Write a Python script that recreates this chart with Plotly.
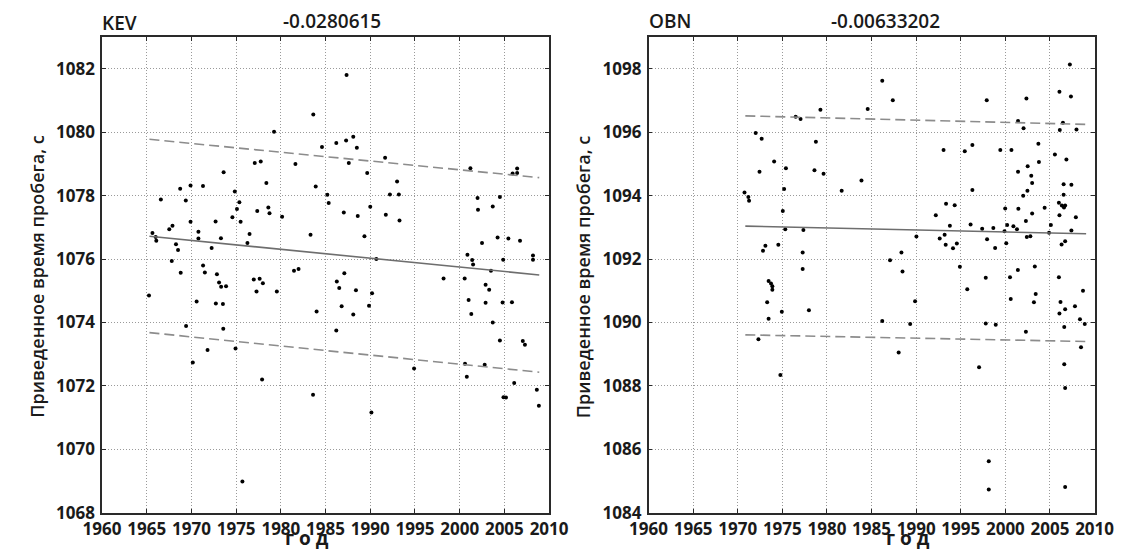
import plotly.graph_objects as go

# ---------------- data ----------------
kev_year = [1965.25, 1965.64, 1966.0, 1966.07, 1966.58, 1967.52, 1967.88, 1968.27, 1968.5, 1967.8,
            1968.74, 1969.37, 1969.9, 1969.9, 1970.78, 1970.78, 1971.29, 1968.8, 1971.3, 1971.5,
            1972.26, 1972.7, 1972.85, 1973.3, 1973.6, 1974.58, 1974.85, 1975.09, 1975.36, 1975.5,
            1976.26, 1976.5, 1977.08, 1977.36, 1977.75, 1978.38, 1978.6, 1978.73, 1979.24, 1980.14,
            1981.47, 1981.98, 1981.63, 1983.32, 1983.63, 1983.9, 1984.6, 1985.2, 1985.35, 1986.2,
            1987.04, 1987.1, 1987.35, 1987.3, 1987.6, 1988.1, 1988.5, 1988.6, 1989.35, 1989.66,
            1990.0, 1990.68, 1991.66, 1991.74, 1992.2, 1993.0, 1993.2, 1993.27, 2001.2, 2000.87,
            2001.4, 2001.5, 2002.0, 2002.05, 2002.5, 2003.7, 2004.24, 2004.5, 2004.87, 2005.45,
            2005.92, 2006.43, 2006.43, 2006.75, 2008.2, 2008.2, 2003.5,
            1998.2, 2000.56, 1973.09, 1973.32, 1973.87, 1972.73, 1973.52, 1970.58, 1969.4, 1973.56,
            1971.8, 1970.15, 1974.93, 1975.7, 1976.97, 1977.63, 1977.99, 1977.28, 1979.55, 1977.9,
            1984.0, 1983.6, 1986.26, 1986.53, 1988.4, 1986.8, 1988.1, 1986.2, 1989.86, 1990.2,
            1990.13, 1994.9, 2001.3, 2001.0, 2002.9, 2003.3, 2002.9, 2003.7, 2000.6, 2000.8,
            2002.8, 2004.5, 2004.8, 2005.85, 2007.06, 2007.3, 2006.1, 2004.9, 2005.18, 2008.63,
            2008.86]
kev_time = [1074.85, 1076.82, 1076.70, 1076.58, 1077.88, 1076.94, 1077.05, 1076.47, 1076.29, 1075.94,
            1078.22, 1077.85, 1078.32, 1077.18, 1076.86, 1076.65, 1078.31, 1075.57, 1075.80, 1075.58,
            1076.35, 1077.19, 1075.52, 1076.66, 1078.74, 1077.32, 1078.13, 1077.58, 1077.79, 1077.18,
            1076.51, 1076.79, 1079.03, 1077.52, 1079.08, 1078.40, 1077.63, 1077.45, 1080.02, 1077.34,
            1075.63, 1075.69, 1079.00, 1076.77, 1080.56, 1078.29, 1079.54, 1078.03, 1077.77, 1079.66,
            1077.47, 1075.55, 1081.81, 1079.74, 1079.03, 1079.86, 1079.51, 1077.36, 1076.72, 1078.72,
            1077.65, 1076.00, 1079.20, 1077.40, 1078.04, 1078.45, 1078.04, 1077.22, 1078.87, 1076.14,
            1075.97, 1075.83, 1077.93, 1077.56, 1076.51, 1077.66, 1076.68, 1077.96, 1075.98, 1076.65,
            1078.70, 1078.86, 1078.72, 1076.58, 1076.11, 1075.98, 1075.63,
            1075.39, 1075.39, 1075.26, 1075.13, 1075.14, 1074.60, 1074.58, 1074.66, 1073.89, 1073.80,
            1073.13, 1072.74, 1073.18, 1068.98, 1075.36, 1075.38, 1075.24, 1074.98, 1074.98, 1072.20,
            1074.35, 1071.72, 1075.29, 1075.09, 1075.02, 1074.51, 1074.25, 1073.75, 1074.53, 1074.92,
            1071.16, 1072.55, 1074.27, 1074.71, 1075.19, 1075.03, 1074.62, 1074.00, 1072.70, 1072.29,
            1072.67, 1073.43, 1074.63, 1074.64, 1073.42, 1073.30, 1072.09, 1071.64, 1071.63, 1071.88,
            1071.37]

kev_line_year = [1965.3, 2008.9]
kev_trend = [1076.72, 1075.50]
kev_upper = [1079.78, 1078.57]
kev_lower = [1073.68, 1072.43]

obn_year = [1970.76, 1971.19, 1971.27, 1972.01, 1972.68, 1972.44, 1974.08, 1975.4, 1975.2, 1975.05,
            1975.33, 1972.83, 1973.1, 1974.55, 1976.5, 1977.04, 1979.27, 1978.76, 1978.6, 1979.62,
            1977.36, 1977.28, 1977.28, 1981.65, 1983.87, 1984.57, 1986.2, 1987.38, 1990.03, 1987.07,
            1988.35, 1988.47, 1992.2, 1993.07, 1993.35, 1994.32, 1992.64, 1993.19, 1993.31, 1993.78,
            1994.13, 1994.56, 1994.9, 1995.45, 1996.3, 1996.3, 1996.1, 1997.4, 1997.95, 1997.91,
            1998.65, 1998.85, 1999.43, 2000.68, 1999.9, 1999.98, 2000.1, 2000.2, 2000.9, 2001.3,
            2001.42, 2001.42, 2002.04, 2002.36, 2001.46, 2002.0, 2002.47, 2002.5, 2002.9, 2003.0,
            2002.3, 2003.0, 2002.4, 2002.8, 2001.4, 2003.3, 2003.7, 2003.76, 2004.4, 2004.9,
            2005.1, 2005.55, 2006.06, 2006.1, 2006.45, 2006.84, 2006.0, 2006.06, 2006.33, 2006.53,
            2006.53, 2006.57, 2006.7, 2006.3, 2006.7, 2007.4, 2007.23, 2007.35, 2007.4, 2007.97,
            2007.9,
            1973.46, 1973.73, 1973.88, 1973.88, 1973.3, 1973.46, 1972.32, 1974.94, 1974.78, 1977.98,
            1986.2, 1988.04, 1989.33, 1989.88, 1995.73, 1997.8, 1997.8, 1998.92, 1997.05, 1998.14,
            1998.14, 2000.52, 2000.6, 2002.3, 2003.2, 2003.4, 2006.0, 2006.18, 2006.06, 2006.7,
            2006.6, 2007.8, 2008.7, 2008.36, 2008.9, 2008.48, 2006.6, 2006.7, 2006.7]
obn_time = [1094.10, 1093.96, 1093.84, 1095.98, 1095.80, 1094.76, 1095.08, 1094.87, 1094.21, 1093.52,
            1092.94, 1092.26, 1092.42, 1092.45, 1096.49, 1096.42, 1096.71, 1095.70, 1094.80, 1094.69,
            1092.92, 1092.21, 1091.69, 1094.16, 1094.48, 1096.74, 1097.63, 1097.01, 1092.71, 1091.96,
            1092.21, 1091.61, 1093.38, 1095.44, 1093.75, 1093.70, 1092.65, 1092.77, 1092.45, 1093.05,
            1092.34, 1092.49, 1091.76, 1095.40, 1095.60, 1094.18, 1093.09, 1092.96, 1092.63, 1097.01,
            1092.98, 1092.35, 1095.44, 1095.44, 1092.88, 1093.60, 1092.50, 1093.08, 1093.04, 1092.94,
            1094.76, 1096.36, 1096.13, 1097.07, 1093.59, 1094.00, 1094.16, 1094.93, 1094.63, 1094.40,
            1093.20, 1093.44, 1092.70, 1092.72, 1091.66, 1091.77, 1095.64, 1095.06, 1093.62, 1092.83,
            1093.08, 1095.30, 1097.28, 1096.07, 1096.30, 1095.14, 1093.78, 1093.38, 1093.69, 1094.36,
            1094.03, 1093.63, 1093.69, 1092.46, 1092.56, 1094.35, 1098.14, 1097.13, 1092.90, 1096.09,
            1093.32,
            1091.31, 1091.23, 1091.14, 1091.03, 1090.64, 1090.12, 1089.47, 1090.34, 1088.34, 1090.39,
            1090.05, 1089.05, 1089.95, 1090.67, 1091.05, 1091.41, 1089.97, 1089.93, 1088.59, 1085.62,
            1084.73, 1091.43, 1090.74, 1089.71, 1090.64, 1090.90, 1091.43, 1090.65, 1090.28, 1090.42,
            1089.86, 1090.51, 1091.00, 1090.10, 1089.95, 1089.22, 1088.68, 1087.93, 1084.81]

obn_line_year = [1970.85, 2009.05]
obn_trend = [1093.04, 1092.80]
obn_upper = [1096.52, 1096.25]
obn_lower = [1089.61, 1089.40]

x_ticks = [1960, 1965, 1970, 1975, 1980, 1985, 1990, 1995, 2000, 2005, 2010]
kev_yticks = [1068, 1070, 1072, 1074, 1076, 1078, 1080, 1082]
obn_yticks = [1084, 1086, 1088, 1090, 1092, 1094, 1096, 1098]

station_names = ["KEV", "OBN"]
slopes = ["-0.0280615", "-0.00633202"]
y_title = "Приведенное время пробега, с"
x_title = "г о д"

# ---------------- figure ----------------
W, H = 1131, 556
FONT = "Open Sans"
TXT = "#1a1a1a"

fig = go.Figure()

def add_panel(xa, ya, years, times, lx, tr, up, lo):
    fig.add_trace(go.Scatter(x=years, y=times, mode="markers", xaxis=xa, yaxis=ya,
                             marker=dict(color="black", size=4), showlegend=False,
                             hoverinfo="x+y"))
    fig.add_trace(go.Scatter(x=lx, y=tr, mode="lines", xaxis=xa, yaxis=ya,
                             line=dict(color="#6e6e6e", width=1.6), showlegend=False))
    for band in (up, lo):
        fig.add_trace(go.Scatter(x=lx, y=band, mode="lines", xaxis=xa, yaxis=ya,
                                 line=dict(color="#8c8c8c", width=1.6, dash="10px,5px"),
                                 showlegend=False))

add_panel("x", "y", kev_year, kev_time, kev_line_year, kev_trend, kev_upper, kev_lower)
add_panel("x2", "y2", obn_year, obn_time, obn_line_year, obn_trend, obn_upper, obn_lower)

ydom = [1 - 523 / H, 1 - 38 / H]
xdom1 = [86 / W, 549 / W]
xdom2 = [652 / W, 1114 / W]

tickfont = dict(family=FONT, size=17, color=TXT, weight=700)

def common_axis():
    return dict(showgrid=True, gridcolor="#9a9a9a", griddash="1px,2px", gridwidth=1,
                showline=True, linecolor="#2a2a2a", linewidth=1.5, mirror="ticks",
                ticks="inside", ticklen=4, tickcolor="#2a2a2a", tickfont=tickfont,
                zeroline=False, fixedrange=True)

def xaxis(dom, anchor):
    d = common_axis()
    d.update(domain=dom, anchor=anchor, range=[1960, 2010], tickvals=x_ticks,
             ticklabelstandoff=0)
    return d

def yaxis(dom, anchor, rng, tv):
    d = common_axis()
    d.update(domain=dom, anchor=anchor, range=rng, tickvals=tv, ticklabelstandoff=2)
    return d

fig.update_layout(
    width=W, height=H,
    margin=dict(l=0, r=0, t=0, b=0),
    paper_bgcolor="white", plot_bgcolor="white",
    xaxis=xaxis(xdom1, "y"),
    yaxis=yaxis(ydom, "x", [1068, 1083], kev_yticks),
    xaxis2=xaxis(xdom2, "y2"),
    yaxis2=yaxis(ydom, "x2", [1084, 1099], obn_yticks),
)

ann = []
titlefont = dict(family=FONT, size=19, color=TXT, weight=600)
panels = [
    # (plot left px, name y px, slope centre px, y-title x px, x-title x px)
    (86, 23, 324, 19, 298),
    (652, 21, 897, 585, 921),
]
for i, (left, ny, sx, ytx, xtx) in enumerate(panels):
    ann.append(dict(text=station_names[i], x=(left - 2) / W, y=1 - ny / H, xref="paper",
                    yref="paper", xanchor="left", yanchor="middle", showarrow=False,
                    font=titlefont))
    ann.append(dict(text=slopes[i], x=sx / W, y=1 - 21 / H, xref="paper", yref="paper",
                    xanchor="center", yanchor="middle", showarrow=False, font=titlefont))
    ann.append(dict(text=y_title, x=ytx / W, y=1 - 282 / H, xref="paper", yref="paper",
                    xanchor="center", yanchor="middle", showarrow=False, textangle=-90,
                    font=dict(family=FONT, size=18, color=TXT, weight=600)))
    ann.append(dict(text=x_title, x=xtx / W, y=1 - 549 / H, xref="paper", yref="paper",
                    xanchor="center", yanchor="middle", showarrow=False,
                    font=dict(family=FONT, size=19, color=TXT, weight=700)))
fig.update_layout(annotations=ann)

fig.write_html("out.html")
